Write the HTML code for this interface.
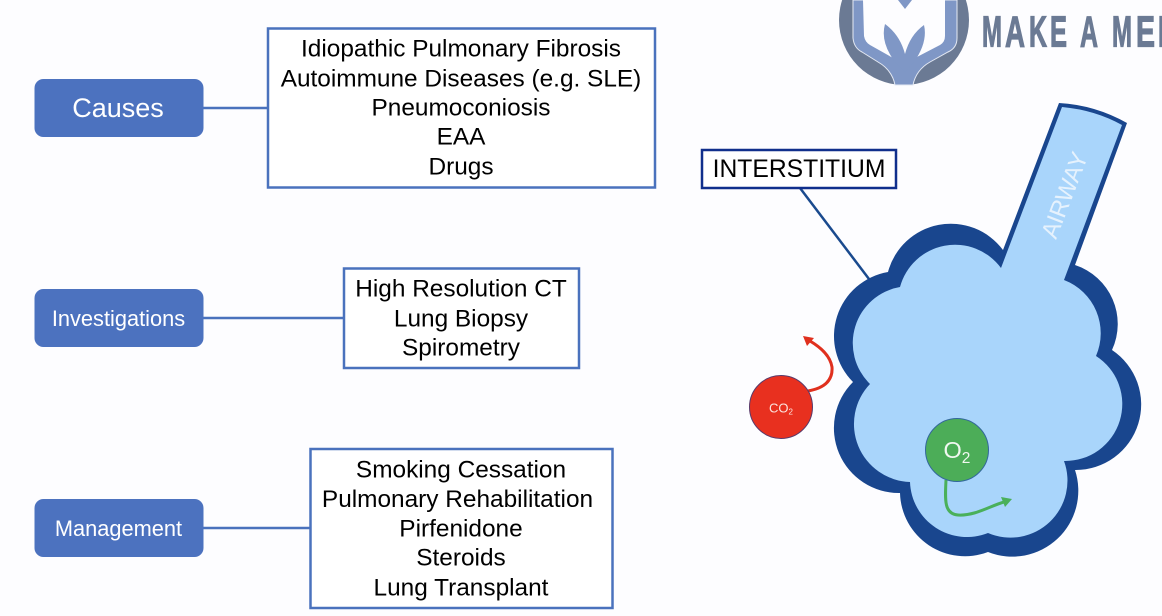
<!DOCTYPE html>
<html><head><meta charset="utf-8"><style>
html,body{margin:0;padding:0;background:#fdfdff}
svg{display:block}
text{font-family:"Liberation Sans",sans-serif}
</style></head><body>
<svg width="1162" height="616" viewBox="0 0 1162 616" xmlns="http://www.w3.org/2000/svg">
<rect width="1162" height="616" fill="#fdfdff"/>
<!-- Logo -->
<circle cx="904" cy="20" r="65" fill="#6b7a94"/>
<path d="M853 0L853 38Q854 48 862 52L878 62Q892 70 895 85L913 85Q916 70 930 62L948 52Q957 48 957 38L957 0Z" fill="#7f97c6" stroke="#e4e9f3" stroke-width="1"/>
<path d="M863 0L864 36Q865 42 870 45L893 58L915 58L940 45Q945 42 945 36L945 0Z" fill="#fdfdff"/>
<path d="M895 62Q880 42 885 24Q900 35 905 54Q910 35 924 25Q928 42 914 62L905 72Z" fill="#7f97c6"/>
<path d="M898 0L905 9L912 0Z" fill="#7f97c6"/>
<g font-size="44" font-weight="bold" fill="#6b7a94" stroke="#6b7a94" stroke-width="1.200">
<text x="982" y="46.500" textLength="20" lengthAdjust="spacingAndGlyphs">M</text>
<text x="1005" y="46.500" textLength="20" lengthAdjust="spacingAndGlyphs">A</text>
<text x="1029" y="46.500" textLength="18" lengthAdjust="spacingAndGlyphs">K</text>
<text x="1050" y="46.500" textLength="17" lengthAdjust="spacingAndGlyphs">E</text>
<text x="1080" y="46.500" textLength="18" lengthAdjust="spacingAndGlyphs">A</text>
<text x="1112" y="46.500" textLength="20" lengthAdjust="spacingAndGlyphs">M</text>
<text x="1136" y="46.500" textLength="19" lengthAdjust="spacingAndGlyphs">E</text>
<text x="1158" y="46.500" textLength="7" lengthAdjust="spacingAndGlyphs">I</text>
</g>

<!-- Connectors -->
<g stroke="#4a72bd" stroke-width="2.500">
<line x1="203" y1="108" x2="268" y2="108"/>
<line x1="203" y1="318" x2="344" y2="318"/>
<line x1="203" y1="528" x2="310" y2="528"/>
</g>
<!-- Pills -->
<g fill="#4c72bf">
<rect x="34.500" y="79" width="169" height="58" rx="9"/>
<rect x="34.500" y="289" width="169" height="58" rx="9"/>
<rect x="34.500" y="499" width="169" height="58" rx="9"/>
</g>
<g fill="#fff" text-anchor="middle">
<text x="118" y="117" font-size="27">Causes</text>
<text x="118.500" y="326" font-size="21.800">Investigations</text>
<text x="118.500" y="536" font-size="21.800">Management</text>
</g>
<!-- Boxes -->
<g fill="#fff" stroke="#4a72bd" stroke-width="2.500">
<rect x="268" y="28.500" width="387" height="159"/>
<rect x="344" y="268.500" width="235" height="99.500"/>
<rect x="310.500" y="449" width="302" height="159"/>
</g>
<g fill="#000" text-anchor="middle" font-size="24.400">
<text x="461" y="56.500">Idiopathic Pulmonary Fibrosis</text>
<text x="461" y="86.500">Autoimmune Diseases (e.g. SLE)</text>
<text x="461" y="115.500">Pneumoconiosis</text>
<text x="461" y="144.500">EAA</text>
<text x="461" y="174.500">Drugs</text>
<text x="461" y="296.500">High Resolution CT</text>
<text x="461" y="326.500">Lung Biopsy</text>
<text x="461" y="355.500">Spirometry</text>
<text x="461" y="477.500">Smoking Cessation</text>
<text x="457.500" y="507">Pulmonary Rehabilitation</text>
<text x="461" y="536.500">Pirfenidone</text>
<text x="461" y="565.500">Steroids</text>
<text x="461" y="595.500">Lung Transplant</text>
</g>
<!-- Interstitium -->
<line x1="800" y1="188" x2="869" y2="279" stroke="#1a4a8e" stroke-width="2.500"/>
<rect x="702" y="150" width="194" height="38" fill="#fff" stroke="#102f8c" stroke-width="2.500"/>
<text x="799" y="177" font-size="24.700" text-anchor="middle" fill="#000">INTERSTITIUM</text>

<!-- Lung outer -->
<path d="M1003 250A65 65 0 0 0 888 272A65 65 0 0 0 853 382A65 65 0 0 0 900 493A65 65 0 0 0 988 552A66 66 0 0 0 1075 470A65.500 65.500 0 0 0 1112 350A62 62 0 0 0 1075 265L1127 123Q1095 105 1059 103Z" fill="#19468e"/>
<!-- Lung inner -->
<path d="M1001 268A57 57 0 0 0 900 287A57 57 0 0 0 870 384A58 58 0 0 0 910 482A57 57 0 0 0 988 533A57 57 0 0 0 1064 461A57 57 0 0 0 1096 356A57 57 0 0 0 1064 280L1122 125Q1095 110 1062 107Z" fill="#a9d5fb"/>
<text transform="translate(1056 240) rotate(-69)" font-size="24" fill="#e6f2fd" textLength="90" lengthAdjust="spacingAndGlyphs">AIRWAY</text>

<!-- CO2 -->
<path d="M808 391C825 388 833 380 832 367C830 355 820 347 810 341" fill="none" stroke="#e0301e" stroke-width="3"/>
<path d="M803 336L814 338L807 346Z" fill="#e0301e"/>
<circle cx="781" cy="407" r="31.500" fill="#e8301f" stroke="#5a3a6a" stroke-width="1"/>
<text x="769" y="412.500" font-size="13" fill="#fbe4de">CO<tspan font-size="8" dy="2">2</tspan></text>

<!-- O2 -->
<path d="M946 480C945 500 944 514 958 515C975 516 990 506 1004 502" fill="none" stroke="#4ab05a" stroke-width="3"/>
<path d="M1012 499L1001 497L1005 507Z" fill="#4ab05a"/>
<circle cx="957" cy="450" r="31.500" fill="#4cad58" stroke="#33689a" stroke-width="1"/>
<text x="943.500" y="458" font-size="23.500" fill="#f0f8f0">O<tspan font-size="15.500" dy="5">2</tspan></text>
</svg>
</body></html>
